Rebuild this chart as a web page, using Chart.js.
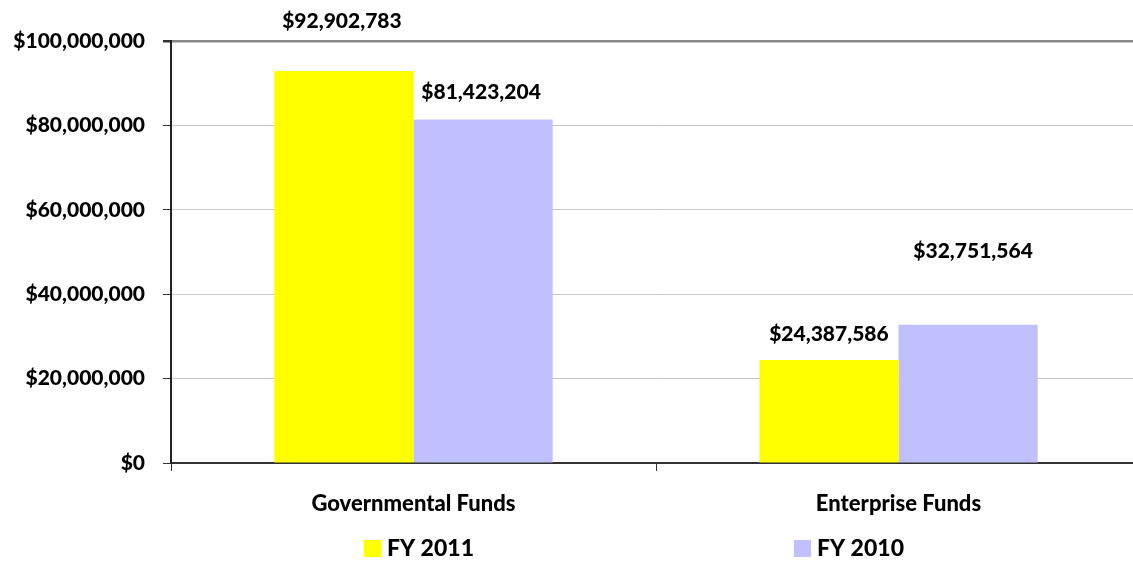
<!DOCTYPE html>
<html>
<head>
<meta charset="utf-8">
<script src="https://cdn.jsdelivr.net/npm/chart.js@4.4.1/dist/chart.umd.min.js"></script>
<style>
  html, body { margin: 0; padding: 0; background: #fff; overflow: hidden; }
  #wrap { width: 1141px; height: 562px; }
</style>
</head>
<body>
<div id="wrap"><canvas id="chart"></canvas></div>
<script>
const categories = ['Governmental Funds', 'Enterprise Funds'];
const seriesNames = ['FY 2011', 'FY 2010'];
const fy2011 = [92902783, 24387586];
const fy2010 = [81423204, 32751564];
const yTicks = [0, 20000000, 40000000, 60000000, 80000000, 100000000];

const colors = ['#FFFF00', '#C0C0FF'];
const FONT = 'Lato, "Open Sans", sans-serif';
const W = 900;

// how far above each bar top the value label sits, and a small sideways nudge
const labelLift = [[50, 27], [26, 74]];
const labelNudge = [[-2, -2], [0, 5]];

function money(v) {
  return '$' + Math.round(v).toLocaleString('en-US');
}

// value labels over the bars
const valueLabels = {
  id: 'valueLabels',
  afterDatasetsDraw(chart) {
    const ctx = chart.ctx;
    ctx.save();
    ctx.font = W + ' 21px ' + FONT;
    ctx.fillStyle = '#000';
    ctx.textAlign = 'center';
    ctx.textBaseline = 'middle';
    chart.data.datasets.forEach((ds, d) => {
      chart.getDatasetMeta(d).data.forEach((bar, i) => {
        const x = bar.x + labelNudge[i][d];
        const y = bar.y - labelLift[i][d];
        ctx.fillText(money(ds.data[i]), x, y);
      });
    });
    ctx.restore();
  }
};

// legend under each category
const bottomLegend = {
  id: 'bottomLegend',
  afterDraw(chart) {
    const ctx = chart.ctx;
    const xs = [364, 794];
    ctx.save();
    ctx.font = W + ' 23px ' + FONT;
    ctx.textBaseline = 'middle';
    chart.data.datasets.forEach((ds, d) => {
      ctx.fillStyle = ds.backgroundColor;
      ctx.fillRect(xs[d], 540, 17, 17);
      ctx.fillStyle = '#000';
      ctx.fillText(ds.label, xs[d] + 23, 549);
    });
    ctx.restore();
  }
};

new Chart(document.getElementById('chart'), {
  type: 'bar',
  data: {
    labels: categories,
    datasets: [
      { label: seriesNames[0], data: fy2011, backgroundColor: colors[0] },
      { label: seriesNames[1], data: fy2010, backgroundColor: colors[1] }
    ]
  },
  options: {
    responsive: true,
    maintainAspectRatio: false,
    animation: false,
    layout: { padding: { top: 41, left: 0, right: 0, bottom: 0 } },
    datasets: {
      bar: { categoryPercentage: 0.574, barPercentage: 1.0 }
    },
    plugins: {
      legend: { display: false },
      tooltip: { enabled: false }
    },
    scales: {
      x: {
        offset: true,
        afterFit: (s) => { s.height = 99; },
        grid: {
          offset: true,
          drawOnChartArea: false,
          drawTicks: true,
          tickLength: 8,
          tickColor: '#333'
        },
        border: { color: '#333', width: 2 },
        ticks: {
          padding: 20,
          color: '#000',
          font: { family: FONT, size: 22, weight: W }
        }
      },
      y: {
        min: 0,
        max: 100000000,
        afterFit: (s) => { s.width = 171; },
        afterBuildTicks: (s) => { s.ticks = yTicks.map(v => ({ value: v })); },
        grid: {
          color: (c) => c.tick && c.tick.value === 100000000 ? '#888' : '#c8c8c8',
          lineWidth: (c) => c.tick && c.tick.value === 100000000 ? 2.5 : 1,
          tickLength: 8,
          tickColor: '#333'
        },
        border: { color: '#222', width: 2 },
        ticks: {
          padding: 18,
          color: '#000',
          font: { family: FONT, size: 21, weight: W },
          callback: (v) => money(v)
        }
      }
    }
  },
  plugins: [valueLabels, bottomLegend]
});
</script>
</body>
</html>
